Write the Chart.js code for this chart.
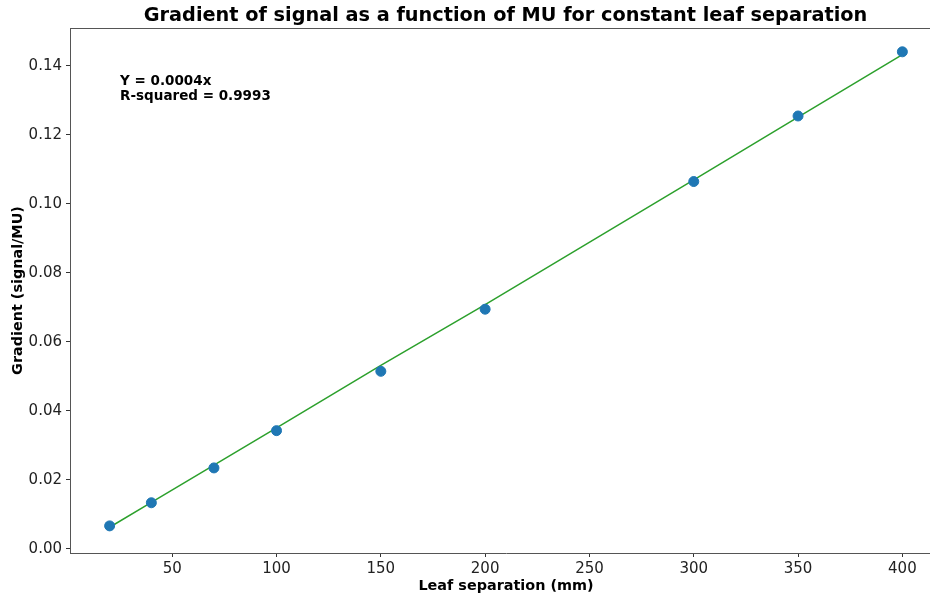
<!DOCTYPE html>
<html>
<head>
<meta charset="utf-8">
<script src="https://cdn.jsdelivr.net/npm/chart.js@4"></script>
<style>
  html, body { margin: 0; padding: 0; background: #fff; overflow: hidden; width: 930px; height: 597px; }
  #wrap { width: 948px; height: 597px; }
</style>
</head>
<body>
<div id="wrap"><canvas id="grafico"></canvas></div>
<script>
// leaf separation (mm) and measured gradient
const separacao = [20, 40, 70, 100, 150, 200, 300, 350, 400]
const gradiente = [0.0067, 0.0134, 0.0235, 0.0343, 0.0515, 0.0695, 0.1065, 0.1255, 0.1441]
// fitted line values at the same separations
const ajuste = [0.0063, 0.0135, 0.0243, 0.0351, 0.0532, 0.0708, 0.1070, 0.1252, 0.1433]

const xTicks = [50, 100, 150, 200, 250, 300, 350, 400]
const yTicks = [0, 0.02, 0.04, 0.06, 0.08, 0.10, 0.12, 0.14]

const titulo = 'Gradient of signal as a function of MU for constant leaf separation'
const legendaFit = ['Y = 0.0004x', 'R-squared = 0.9993']

const fonte = '"DejaVu Sans", sans-serif'

// frame, title and the fit text
const extras = {
  id: 'extras',
  afterDraw(chart) {
    const {ctx, chartArea: a, scales} = chart
    ctx.save()
    ctx.strokeStyle = '#555'
    ctx.lineWidth = 1
    ctx.beginPath()
    ctx.moveTo(a.left, a.top + 0.5)
    ctx.lineTo(a.right, a.top + 0.5)
    ctx.lineTo(a.right - 0.5, a.bottom)
    ctx.stroke()

    ctx.fillStyle = '#000'
    ctx.font = 'bold 19.3px ' + fonte
    ctx.textAlign = 'center'
    ctx.textBaseline = 'middle'
    ctx.fillText(titulo, 505.5, 16)

    ctx.font = 'bold 13.5px ' + fonte
    ctx.textAlign = 'left'
    const tx = scales.x.getPixelForValue(25)
    const ty = scales.y.getPixelForValue(0.1354)
    legendaFit.forEach((linha, i) => ctx.fillText(linha, tx, ty + i * 15))
    ctx.restore()
  }
}

const ctx = document.getElementById('grafico')
new Chart(ctx, {
  type: 'scatter',
  data: {
    datasets: [{
      type: 'line',
      data: separacao.map((x, i) => ({x: x, y: ajuste[i]})),
      borderColor: '#2ca02c',
      borderWidth: 1.5,
      pointRadius: 0,
      fill: false,
      order: 2
    }, {
      data: separacao.map((x, i) => ({x: x, y: gradiente[i]})),
      backgroundColor: '#1f77b4',
      borderColor: '#1f77b4',
      pointRadius: 5,
      order: 1
    }]
  },
  options: {
    responsive: true,
    maintainAspectRatio: false,
    animation: false,
    layout: { padding: { top: 28, right: 0, left: 0, bottom: 0 } },
    plugins: { legend: { display: false }, tooltip: { enabled: false }, title: { display: false } },
    scales: {
      x: {
        type: 'linear',
        min: 1,
        max: 419,
        afterBuildTicks: s => { s.ticks = xTicks.map(v => ({value: v})) },
        afterFit: s => { s.height = 44 },
        border: { color: '#555', width: 1 },
        grid: { drawOnChartArea: false, drawTicks: true, tickLength: 4, tickColor: '#333' },
        ticks: { color: '#222', padding: 3, font: { family: fonte, size: 15 }, maxRotation: 0 },
        title: { display: true, text: 'Leaf separation (mm)', color: '#000', font: { family: fonte, size: 14.4, weight: 'bold' }, padding: { top: 0, bottom: 2 } }
      },
      y: {
        type: 'linear',
        min: -0.00116,
        max: 0.151,
        afterBuildTicks: s => { s.ticks = yTicks.map(v => ({value: v})) },
        afterFit: s => { s.width = 70 },
        border: { color: '#555', width: 1 },
        grid: { drawOnChartArea: false, drawTicks: true, tickLength: 4, tickColor: '#333' },
        ticks: { color: '#222', padding: 4, font: { family: fonte, size: 15 }, callback: v => v.toFixed(2) },
        title: { display: true, text: 'Gradient (signal/MU)', color: '#000', font: { family: fonte, size: 14.4, weight: 'bold' }, padding: { top: 10, bottom: 0 } }
      }
    }
  },
  plugins: [extras]
})
</script>
</body>
</html>
